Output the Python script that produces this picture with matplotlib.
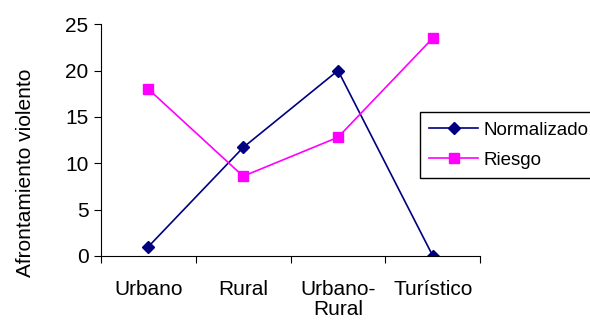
import matplotlib
matplotlib.use('Agg')
import matplotlib.pyplot as plt

plt.rcParams['font.family'] = ['Liberation Sans', 'DejaVu Sans']

categorias = ['Urbano', 'Rural', 'Urbano-\nRural', 'Turístico']
normalizado = [1, 11.7, 20, 0]
riesgo = [18, 8.6, 12.8, 23.5]

fig = plt.figure(figsize=(5.9, 3.22), dpi=100)
ax = fig.add_axes([0.171, 0.205, 0.643, 0.72])

x = [i + 0.5 for i in range(len(categorias))]
ax.plot(x, normalizado, color='#000080', marker='D', markersize=6, lw=1.2, label='Normalizado')
ax.plot(x, riesgo, color='#FF00FF', marker='s', markersize=6.5, lw=1.2, label='Riesgo')

ax.set_xlim(0, 4)
ax.set_ylim(0, 25)
ax.set_yticks([0, 5, 10, 15, 20, 25])
ax.set_xticks([0, 1, 2, 3, 4])
ax.set_xticklabels([])
ax.set_xticks(x, minor=True)
ax.set_xticklabels(categorias, minor=True, fontsize=15, linespacing=1.1)
ax.tick_params(axis='x', which='minor', length=0, pad=17)
ax.tick_params(axis='x', which='major', length=5, direction='out')
ax.tick_params(axis='y', length=5, direction='out', labelsize=15, pad=4)
ax.spines['top'].set_visible(False)
ax.spines['right'].set_visible(False)
ax.set_ylabel('Afrontamiento violento', fontsize=15)
ax.yaxis.set_label_coords(-0.175, 0.36)

leg = fig.legend(loc='upper left', bbox_to_anchor=(0.712, 0.652), fontsize=13.5,
                 fancybox=False, edgecolor='black', framealpha=1, borderpad=0.5,
                 handlelength=2.6, handletextpad=0.3, borderaxespad=0,
                 labelspacing=0.7)
leg.get_frame().set_linewidth(1.0)

fig.savefig('out.png', dpi=100)
